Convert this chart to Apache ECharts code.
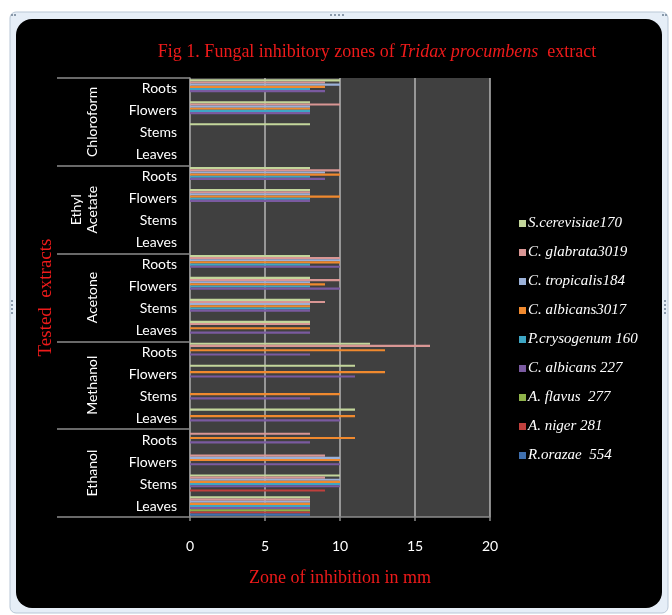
<!DOCTYPE html>
<html>
<head>
<meta charset="utf-8">
<script src="https://cdn.jsdelivr.net/npm/echarts@6/dist/echarts.min.js"></script>
<style>
  html, body { margin: 0; padding: 0; background: #ffffff; }
  #chart { width: 672px; height: 615px; }
</style>
</head>
<body>
<div id="chart"></div>
<script>
// Extract groups (bottom to top) and plant parts within each group
const groups = ['Ethanol', 'Methanol', 'Acetone', 'Ethyl\nAcetate', 'Chloroform'];
const parts = ['Leaves', 'Stems', 'Flowers', 'Roots'];
const categories = [];
groups.forEach(function () { parts.forEach(function (p) { categories.push(p); }); });

const xTicks = { min: 0, max: 20, interval: 5 };

// Zone of inhibition (mm), one value per category, bottom to top:
// Ethanol L,S,F,R | Methanol L,S,F,R | Acetone L,S,F,R | Ethyl Acetate L,S,F,R | Chloroform L,S,F,R
const sCerevisiae170 = [8, 10, 0, 0,   11, 0, 11, 12,  8, 8, 8, 8,    0, 0, 8, 8,   0, 8, 8, 10];
const cGlabrata3019  = [8, 9, 9, 8,    0, 0, 0, 16,    8, 9, 10, 10,  0, 0, 8, 10,  0, 0, 10, 9];
const cTropicalis184 = [8, 10, 10, 0,  0, 0, 0, 0,     0, 8, 8, 10,   0, 0, 8, 9,   0, 0, 8, 10];
const cAlbicans3017  = [8, 10, 10, 11, 11, 10, 13, 13, 8, 8, 9, 10,   0, 0, 10, 10, 0, 0, 8, 9];
const pCrysogenum160 = [8, 10, 0, 0,   0, 0, 0, 0,     0, 8, 8, 8,    0, 0, 8, 8,   0, 0, 8, 8];
const cAlbicans227   = [8, 10, 10, 8,  10, 8, 11, 8,   8, 8, 10, 10,  0, 0, 8, 9,   0, 0, 8, 9];
const aFlavus277     = [8, 0, 0, 0,    0, 0, 0, 0,     0, 0, 0, 0,    0, 0, 0, 0,   0, 0, 0, 0];
const aNiger281      = [8, 9, 0, 0,    0, 0, 0, 0,     0, 0, 0, 0,    0, 0, 0, 0,   0, 0, 0, 0];
const rOrazae554     = [8, 0, 0, 0,    0, 0, 0, 0,     0, 0, 0, 0,    0, 0, 0, 0,   0, 0, 0, 0];

// Series in legend order (top of each category band first)
const seriesDefs = [
  { name: 'S.cerevisiae170',  data: sCerevisiae170, color: '#c3d69b' },
  { name: 'C. glabrata3019',  data: cGlabrata3019,  color: '#d99694' },
  { name: 'C. tropicalis184', data: cTropicalis184, color: '#9bb1d8' },
  { name: 'C. albicans3017',  data: cAlbicans3017,  color: '#f0892e' },
  { name: 'P.crysogenum 160', data: pCrysogenum160, color: '#3ea6c4' },
  { name: 'C. albicans 227',  data: cAlbicans227,   color: '#7a5aa0' },
  { name: 'A. flavus  277',   data: aFlavus277,     color: '#8fb24a' },
  { name: 'A. niger 281',     data: aNiger281,      color: '#c0403d' },
  { name: 'R.orazae  554',    data: rOrazae554,     color: '#3f6fae' }
];

const chart = echarts.init(document.getElementById('chart'), null, { renderer: 'canvas' });

const red = '#ee1a1a';
const serif = 'Liberation Serif';
const sans = 'Lato';

// Small dotted grab handles on the chart frame
function handleDots(x0, y0, dx, dy, n) {
  const out = [];
  for (let k = 0; k < n; k++) {
    out.push({ type: 'rect', z: -8, shape: { x: x0 + k * dx, y: y0 + k * dy, width: 2, height: 2 },
      style: { fill: '#8a9aab' } });
  }
  return out;
}

const frame = [
  { type: 'rect', z: -10, shape: { x: 10, y: 12, width: 658, height: 601, r: 6 },
    style: { fill: '#e6eef7', stroke: '#b9c7d6', lineWidth: 1 } },
  { type: 'rect', z: -9, shape: { x: 16, y: 19, width: 646, height: 589, r: 16 },
    style: { fill: '#000000' } }
].concat(
  handleDots(330, 14, 4, 0, 4),
  handleDots(11, 300, 0, 4, 4),
  handleDots(664, 300, 0, 4, 4),
  handleDots(11, 14, 3, 0, 2),
  handleDots(662, 14, 3, 0, 2)
);

const option = {
  backgroundColor: '#ffffff',
  animation: false,
  graphic: frame,
  title: {
    text: '{n|Fig 1. Fungal inhibitory zones of }{i|Tridax procumbens}{n|  extract}',
    left: 372, top: 38, textAlign: 'center',
    textStyle: {
      fontWeight: 'normal',
      rich: {
        n: { color: red, fontFamily: serif, fontSize: 18, fontWeight: 'normal' },
        i: { color: red, fontFamily: serif, fontSize: 18, fontWeight: 'normal', fontStyle: 'italic' }
      }
    }
  },
  legend: {
    orient: 'vertical',
    left: 514, top: 211,
    itemWidth: 7, itemHeight: 7, itemGap: 14,
    icon: 'rect',
    data: seriesDefs.map(function (s) { return s.name; }),
    formatter: '{t|{name}}',
    textStyle: {
      color: '#ffffff', fontFamily: serif, fontStyle: 'italic', fontSize: 15,
      rich: { t: { color: '#ffffff', fontFamily: serif, fontStyle: 'italic', fontSize: 15, padding: [0, 0, 0, -3] } }
    }
  },
  grid: {
    left: 190, right: 182, top: 78, bottom: 98,
    show: true, backgroundColor: '#404040', borderWidth: 0
  },
  xAxis: {
    type: 'value',
    min: xTicks.min, max: xTicks.max, interval: xTicks.interval,
    name: 'Zone of inhibition in mm',
    nameLocation: 'middle', nameGap: 52,
    nameTextStyle: { color: red, fontFamily: serif, fontSize: 18 },
    axisLine: { show: true, lineStyle: { color: '#8c8c8c', width: 1.5 } },
    axisTick: { show: true, length: 4, lineStyle: { color: '#8c8c8c', width: 1.5 } },
    splitLine: { show: true, lineStyle: { color: '#b4b4b4', width: 1.5 } },
    axisLabel: { color: '#ffffff', fontFamily: sans, fontSize: 14, margin: 22 }
  },
  yAxis: [
    {
      type: 'category',
      data: categories,
      axisLine: { show: true, lineStyle: { color: '#8c8c8c', width: 1.5 } },
      axisTick: { show: false },
      axisLabel: { color: '#ffffff', fontFamily: sans, fontSize: 14, margin: 13, interval: 0 }
    },
    {
      type: 'category',
      position: 'left',
      data: groups,
      name: 'Tested  extracts',
      nameLocation: 'middle', nameGap: 134, nameRotate: 90,
      nameTextStyle: { color: red, fontFamily: serif, fontSize: 19 },
      axisLine: { show: false },
      axisTick: { show: true, length: 133, interval: 0, lineStyle: { color: '#8c8c8c', width: 1.5 } },
      axisLabel: { color: '#ffffff', fontFamily: sans, fontSize: 14, rotate: 90, margin: 90, interval: 0, lineHeight: 16 }
    }
  ],
  series: seriesDefs.map(function (s) {
    return {
      name: s.name,
      type: 'bar',
      data: s.data,
      barGap: '0%',
      barCategoryGap: '12%',
      itemStyle: { color: s.color },
      emphasis: { disabled: true }
    };
  })
};

chart.setOption(option);
</script>
</body>
</html>
